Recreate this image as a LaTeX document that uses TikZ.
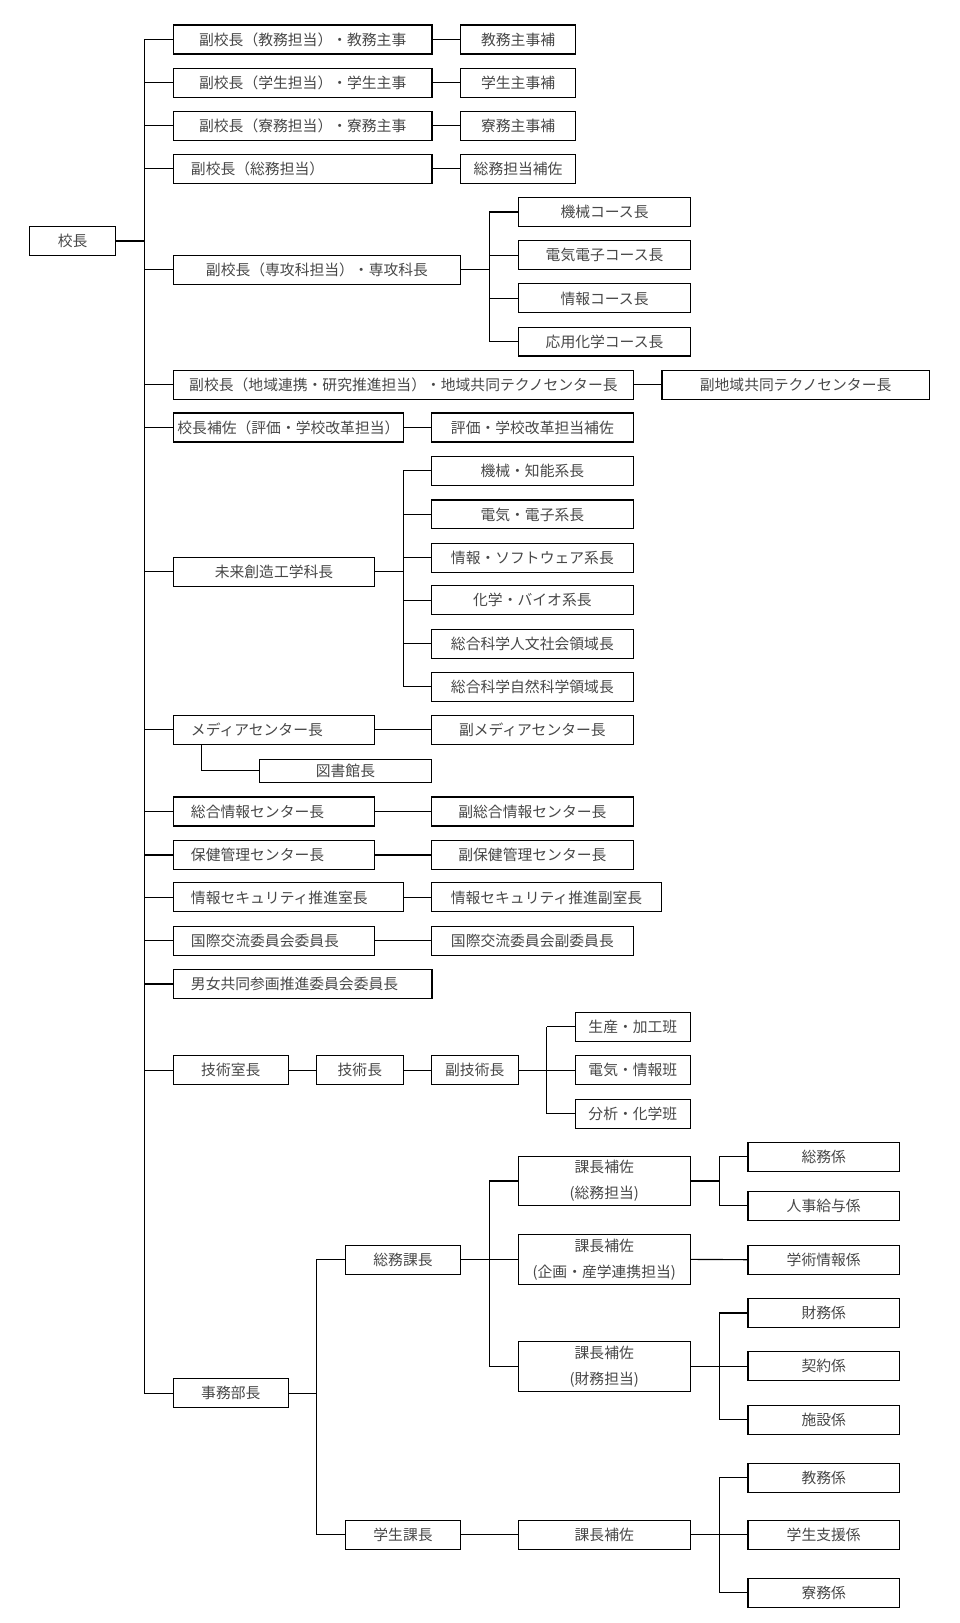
\documentclass[tikz,border=0pt]{standalone}
\usepackage{fontspec}
\newfontfamily\jpfont{Noto Sans CJK JP}
\begin{document}
\begin{tikzpicture}[x=1pt,y=1pt,
  bx/.style={draw=black, line width=1.1pt, minimum height=28pt, inner sep=0pt,
    text=black!72, font=\jpfont\fontsize{14.3}{25}\selectfont, align=center},
  lbx/.style={bx, inner xsep=17pt, align=left},
  ln/.style={draw=black, line width=1.1pt}]
\useasboundingbox (0,0) rectangle (927.4,-1568);
% coordinates of vertical bars
\coordinate (tA) at (139.5,0);
\coordinate (tB) at (472.7,0);
\coordinate (tC) at (389.5,0);
\coordinate (tD) at (528,0);
\coordinate (tE) at (305.5,0);
\coordinate (tF) at (695,0);
\coordinate (tM) at (194.6,0);
% nodes
\node[bx, minimum width=83.2pt] (kocho) at (70.1,-232.8) {校長};
\node[bx, minimum width=249.9pt] (r1) at (292.45,-38.2) {副校長（教務担当）・教務主事};
\node[bx, minimum width=111.7pt] (r1b) at (500.55,-38.2) {教務主事補};
\node[bx, minimum width=249.9pt] (r2) at (292.45,-80) {副校長（学生担当）・学生主事};
\node[bx, minimum width=111.7pt] (r2b) at (500.55,-80) {学生主事補};
\node[bx, minimum width=249.9pt] (r3) at (292.45,-121.5) {副校長（寮務担当）・寮務主事};
\node[bx, minimum width=111.7pt] (r3b) at (500.55,-121.5) {寮務主事補};
\node[lbx, text width=215.9pt] (r4) at (292.45,-163) {副校長（総務担当）};
\node[bx, minimum width=111.7pt] (r4b) at (500.55,-163) {総務担当補佐};
\node[bx, minimum width=277.5pt] (r5) at (306.25,-260.6) {副校長（専攻科担当）・専攻科長};
\node[bx, minimum width=166.9pt] (c1) at (584.05,-204.8) {機械コース長};
\node[bx, minimum width=166.9pt] (c2) at (584.05,-246.5) {電気電子コース長};
\node[bx, minimum width=166.9pt] (c3) at (584.05,-288.3) {情報コース長};
\node[bx, minimum width=166.9pt] (c4) at (584.05,-330) {応用化学コース長};
\node[bx, minimum width=444.5pt] (r6) at (389.75,-371.8) {副校長（地域連携・研究推進担当）・地域共同テクノセンター長};
\node[bx, minimum width=258.1pt] (r6b) at (768.65,-371.8) {副地域共同テクノセンター長};
\node[bx, minimum width=222.3pt] (r7) at (278.65,-413) {校長補佐（評価・学校改革担当）};
\node[bx, minimum width=195.3pt] (r7b) at (514.35,-413) {評価・学校改革担当補佐};
\node[bx, minimum width=194.5pt] (r8) at (264.75,-552.4) {未来創造工学科長};
\node[bx, minimum width=195.3pt] (d1) at (514.35,-454.8) {機械・知能系長};
\node[bx, minimum width=195.3pt] (d2) at (514.35,-497) {電気・電子系長};
\node[bx, minimum width=195.3pt] (d3) at (514.35,-539) {情報・ソフトウェア系長};
\node[bx, minimum width=195.3pt] (d4) at (514.35,-580) {化学・バイオ系長};
\node[bx, minimum width=195.3pt] (d5) at (514.35,-622) {総合科学人文社会領域長};
\node[bx, minimum width=195.3pt] (d6) at (514.35,-663.5) {総合科学自然科学領域長};
\node[lbx, text width=160.5pt] (r9) at (264.75,-705) {メディアセンター長};
\node[bx, minimum width=195.3pt] (r9b) at (514.35,-705) {副メディアセンター長};
\node[bx, minimum width=166.5pt, minimum height=22pt] (lib) at (333.75,-744.6) {図書館長};
\node[lbx, text width=160.5pt] (r10) at (264.75,-784) {総合情報センター長};
\node[bx, minimum width=195.3pt] (r10b) at (514.35,-784) {副総合情報センター長};
\node[lbx, text width=160.5pt] (r11) at (264.75,-826) {保健管理センター長};
\node[bx, minimum width=195.3pt] (r11b) at (514.35,-826) {副保健管理センター長};
\node[lbx, text width=188.3pt] (r12) at (278.65,-867) {情報セキュリティ推進室長};
\node[bx, minimum width=222.6pt] (r12b) at (528,-867) {情報セキュリティ推進副室長};
\node[lbx, text width=160.5pt] (r13) at (264.75,-909) {国際交流委員会委員長};
\node[bx, minimum width=195.3pt] (r13b) at (514.35,-909) {国際交流委員会副委員長};
\node[lbx, text width=215.9pt] (r14) at (292.45,-950.6) {男女共同参画推進委員会委員長};
\node[bx, minimum width=111pt] (r15) at (223,-1034) {技術室長};
\node[bx, minimum width=84.3pt] (g1) at (347.65,-1034) {技術長};
\node[bx, minimum width=84pt] (g2) at (458.7,-1034) {副技術長};
\node[bx, minimum width=111.2pt] (h1) at (611.4,-992) {生産・加工班};
\node[bx, minimum width=111.2pt] (h2) at (611.4,-1034) {電気・情報班};
\node[bx, minimum width=111.2pt] (h3) at (611.4,-1076) {分析・化学班};
\node[bx, minimum width=111pt] (r16) at (223,-1346) {事務部長};
\node[bx, minimum width=111.3pt] (k1) at (389.35,-1217) {総務課長};
\node[bx, minimum width=111.3pt] (k2) at (389.35,-1482.6) {学生課長};
\node[bx, minimum width=166pt, minimum height=48pt] (s1) at (583.8,-1141) {課長補佐\\(総務担当)};
\node[bx, minimum width=166pt, minimum height=48pt] (s2) at (583.8,-1216.7) {課長補佐\\(企画・産学連携担当)};
\node[bx, minimum width=166pt, minimum height=48pt] (s3) at (583.8,-1320) {課長補佐\\(財務担当)};
\node[bx, minimum width=166pt] (s4) at (583.8,-1482.6) {課長補佐};
\node[bx, minimum width=146.4pt] (f1) at (795.8,-1117.5) {総務係};
\node[bx, minimum width=146.4pt] (f2) at (795.8,-1165) {人事給与係};
\node[bx, minimum width=146.4pt] (f3) at (795.8,-1217) {学術情報係};
\node[bx, minimum width=146.4pt] (f4) at (795.8,-1268.5) {財務係};
\node[bx, minimum width=146.4pt] (f5) at (795.8,-1320) {契約係};
\node[bx, minimum width=146.4pt] (f6) at (795.8,-1371.6) {施設係};
\node[bx, minimum width=146.4pt] (f7) at (795.8,-1427.6) {教務係};
\node[bx, minimum width=146.4pt] (f8) at (795.8,-1482.6) {学生支援係};
\node[bx, minimum width=146.4pt] (f9) at (795.8,-1538.6) {寮務係};
% main trunk
\draw[ln] (kocho.east) -- (kocho.east -| tA);
\draw[ln] (r1.west -| tA) -- (r16.west -| tA);
\foreach \n in {r1,r2,r3,r4,r5,r6,r7,r8,r9,r10,r11,r12,r13,r14,r15,r16}
  \draw[ln] (\n.west) -- (\n.west -| tA);
% simple pairs
\foreach \a/\b in {r1/r1b,r2/r2b,r3/r3b,r4/r4b,r6/r6b,r7/r7b,r9/r9b,r10/r10b,r11/r11b,r12/r12b,r13/r13b,r15/g1,g1/g2,s2/f3,k2/s4}
  \draw[ln] (\a.east) -- (\b.west);
% courses
\draw[ln] (r5.east) -- (r5.east -| tB);
\draw[ln] (c1.west -| tB) -- (c4.west -| tB);
\foreach \n in {c1,c2,c3,c4} \draw[ln] (\n.west) -- (\n.west -| tB);
% departments
\draw[ln] (r8.east) -- (r8.east -| tC);
\draw[ln] (d1.west -| tC) -- (d6.west -| tC);
\foreach \n in {d1,d2,d3,d4,d5,d6} \draw[ln] (\n.west) -- (\n.west -| tC);
% media -> library
\draw[ln] (r9.south -| tM) |- (lib.west);
% technical groups
\draw[ln] (g2.east) -- (g2.east -| tD);
\draw[ln] (h1.west -| tD) -- (h3.west -| tD);
\foreach \n in {h1,h2,h3} \draw[ln] (\n.west) -- (\n.west -| tD);
% office
\draw[ln] (r16.east) -- (r16.east -| tE);
\draw[ln] (k1.west -| tE) -- (k2.west -| tE);
\foreach \n in {k1,k2} \draw[ln] (\n.west) -- (\n.west -| tE);
\draw[ln] (k1.east) -- (k1.east -| tB);
\draw[ln] (s1.west -| tB) -- (s3.west -| tB);
\foreach \n in {s1,s2,s3} \draw[ln] (\n.west) -- (\n.west -| tB);
% sections
\draw[ln] (s1.east) -- (s1.east -| tF);
\draw[ln] (f1.west -| tF) -- (f2.west -| tF);
\foreach \n in {f1,f2} \draw[ln] (\n.west) -- (\n.west -| tF);
\draw[ln] (s3.east) -- (s3.east -| tF);
\draw[ln] (f4.west -| tF) -- (f6.west -| tF);
\foreach \n in {f4,f5,f6} \draw[ln] (\n.west) -- (\n.west -| tF);
\draw[ln] (s4.east) -- (s4.east -| tF);
\draw[ln] (f7.west -| tF) -- (f9.west -| tF);
\foreach \n in {f7,f8,f9} \draw[ln] (\n.west) -- (\n.west -| tF);
\end{tikzpicture}
\end{document}
